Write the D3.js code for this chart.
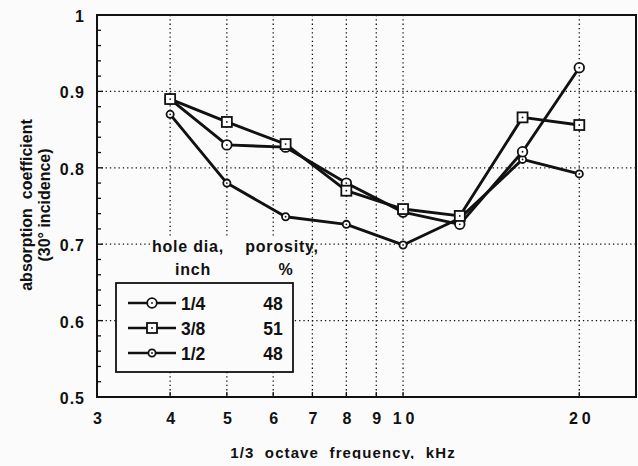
<!DOCTYPE html>
<html>
<head>
<meta charset="utf-8">
<script src="https://cdn.jsdelivr.net/npm/d3@7"></script>
<style>
  html, body { margin: 0; padding: 0; background: #fbfbfb; }
  svg { display: block; }
  text { font-family: "Liberation Sans", Arial, Helvetica, sans-serif; font-weight: bold; fill: #111; white-space: pre; }
</style>
</head>
<body>
<svg id="chart" width="638" height="466"></svg>
<script>
// 1/3-octave band centre frequencies, kHz
const freqs = [4, 5, 6.3, 8, 10, 12.5, 16, 20];
// absorption coefficient at 30° incidence for each hole diameter
const hole14 = [0.89, 0.83, 0.827, 0.78, 0.742, 0.726, 0.821, 0.931];
const hole38 = [0.89, 0.86, 0.831, 0.77, 0.746, 0.737, 0.866, 0.856];
const hole12 = [0.87, 0.78, 0.736, 0.726, 0.699, 0.734, 0.811, 0.792];
const seriesNames = ["1/4", "3/8", "1/2"];
const porosity = ["48", "51", "48"];
const markerKinds = ["circle", "square", "dot"];
// axis ticks
const xTicks = [3, 4, 5, 6, 7, 8, 9, 10, 20];
const xGrid = [4, 5, 6, 7, 8, 9, 10, 20];
const yTicks = [0.5, 0.6, 0.7, 0.8, 0.9, 1];
const yGrid = [0.6, 0.7, 0.8, 0.9];

const svg = d3.select("#chart");
const L = 97, R = 636, T = 15, B = 397;
const x = d3.scaleLog().domain([3, 25]).range([L, R]);
const y = d3.scaleLinear().domain([0.5, 1]).range([B, T]);
const ink = "#111";

// dotted grid
const grid = svg.append("g").attr("stroke", ink).attr("stroke-width", 1.3)
  .attr("stroke-dasharray", "1.3,3");
grid.selectAll("line.v").data(xGrid).join("line")
  .attr("x1", d => x(d)).attr("x2", d => x(d)).attr("y1", T).attr("y2", B);
grid.selectAll("line.h").data(yGrid).join("line")
  .attr("x1", L).attr("x2", R).attr("y1", d => y(d)).attr("y2", d => y(d));

// minor ticks on the left edge
const minor = d3.range(0.5, 1.0001, 0.02);
svg.append("g").attr("stroke", ink).attr("stroke-width", 1.3)
  .selectAll("line").data(minor).join("line")
  .attr("x1", L).attr("x2", d => L + (Math.abs(d * 10 - Math.round(d * 10)) < 1e-6 ? 6 : 4))
  .attr("y1", d => y(d)).attr("y2", d => y(d));
// bottom ticks at the labelled frequencies
svg.append("g").attr("stroke", ink).attr("stroke-width", 1.3)
  .selectAll("line").data(xGrid).join("line")
  .attr("x1", d => x(d)).attr("x2", d => x(d)).attr("y1", B).attr("y2", B - 5);

// axes (labels only; frame drawn separately)
const xAxis = d3.axisBottom(x).tickValues(xTicks).tickSize(0).tickPadding(16)
  .tickFormat(d3.format("d"));
const gx = svg.append("g").attr("transform", `translate(0,${B})`).call(xAxis);
gx.select(".domain").remove();
gx.selectAll("text").attr("font-size", 16).attr("font-family", null).attr("fill", ink)
  .attr("letter-spacing", d => d >= 10 ? "4px" : null)
  .attr("dx", d => d >= 10 ? "2px" : null);

const yAxis = d3.axisLeft(y).tickValues(yTicks).tickSize(0).tickPadding(12)
  .tickFormat(d => d === 1 ? "1" : d3.format(".1f")(d));
const gy = svg.append("g").attr("transform", `translate(${L},0)`).call(yAxis);
gy.select(".domain").remove();
gy.selectAll("text").attr("font-size", 16).attr("font-family", null).attr("fill", ink)
  .attr("letter-spacing", "1px").attr("dy", "0.4em");

// frame
svg.append("rect").attr("x", L).attr("y", T).attr("width", R - L).attr("height", B - T)
  .attr("fill", "none").attr("stroke", ink).attr("stroke-width", 2);

// axis titles
svg.append("clipPath").attr("id", "titleClip")
  .append("rect").attr("x", 0).attr("y", 430).attr("width", 638).attr("height", 29);
svg.append("text").attr("clip-path", "url(#titleClip)")
  .attr("x", 343).attr("y", 458).attr("text-anchor", "middle")
  .attr("font-size", 15).attr("letter-spacing", "1.1px").text("1/3  octave  frequency,  kHz");
const yt = svg.append("g").attr("transform", "translate(0,205) rotate(-90)");
yt.append("text").attr("x", 0).attr("y", 32).attr("text-anchor", "middle")
  .attr("font-size", 16).text("absorption  coefficient");
yt.append("text").attr("x", 0).attr("y", 50).attr("text-anchor", "middle")
  .attr("font-size", 16).text("(30° incidence)");

// marker drawing
function marker(g, kind, cx, cy) {
  if (kind === "square") {
    g.append("rect").attr("x", cx - 5).attr("y", cy - 5).attr("width", 10).attr("height", 10)
      .attr("fill", "#fff").attr("stroke", ink).attr("stroke-width", 1.8);
  } else {
    g.append("circle").attr("cx", cx).attr("cy", cy).attr("r", kind === "circle" ? 4.8 : 3.6)
      .attr("fill", "#fff").attr("stroke", ink).attr("stroke-width", 1.8);
  }
  g.append("circle").attr("cx", cx).attr("cy", cy).attr("r", 0.9).attr("fill", ink);
}

const allSeries = [hole14, hole38, hole12];
const line = d3.line().x(d => x(d[0])).y(d => y(d[1]));
allSeries.forEach((vals, i) => {
  const pts = freqs.map((f, j) => [f, vals[j]]);
  svg.append("path").datum(pts).attr("d", line).attr("fill", "none")
    .attr("stroke", ink).attr("stroke-width", 2.9).attr("stroke-linejoin", "round");
});
// markers drawn after all lines; circles first so squares at shared points sit on top
[2, 0, 1].forEach(i => {
  const g = svg.append("g");
  freqs.forEach((f, j) => marker(g, markerKinds[i], x(f), y(allSeries[i][j])));
});

// legend
const lg = svg.append("g");
lg.append("rect").attr("x", 150).attr("y", 236).attr("width", 158).attr("height", 47)
  .attr("fill", "#fbfbfb");
lg.append("rect").attr("x", 116).attr("y", 283).attr("width", 177).attr("height", 89)
  .attr("fill", "#fbfbfb").attr("stroke", ink).attr("stroke-width", 1.8);
const hdr = [["hole dia,", 188, 252], ["inch", 193, 275], ["porosity,", 282, 252], ["%", 286, 275]];
hdr.forEach(h => lg.append("text").attr("x", h[1]).attr("y", h[2]).attr("text-anchor", "middle")
  .attr("font-size", 16).attr("letter-spacing", "0.8px").text(h[0]));
const rowY = [303, 328, 353];
seriesNames.forEach((name, i) => {
  const yy = rowY[i];
  lg.append("line").attr("x1", 128).attr("x2", 176).attr("y1", yy).attr("y2", yy)
    .attr("stroke", ink).attr("stroke-width", 2.4);
  marker(lg, markerKinds[i], 152, yy);
  lg.append("text").attr("x", 181).attr("y", yy + 7).attr("font-size", 17.5).text(name);
  lg.append("text").attr("x", 273).attr("y", yy + 7).attr("text-anchor", "middle")
    .attr("font-size", 17.5).text(porosity[i]);
});
</script>
</body>
</html>
